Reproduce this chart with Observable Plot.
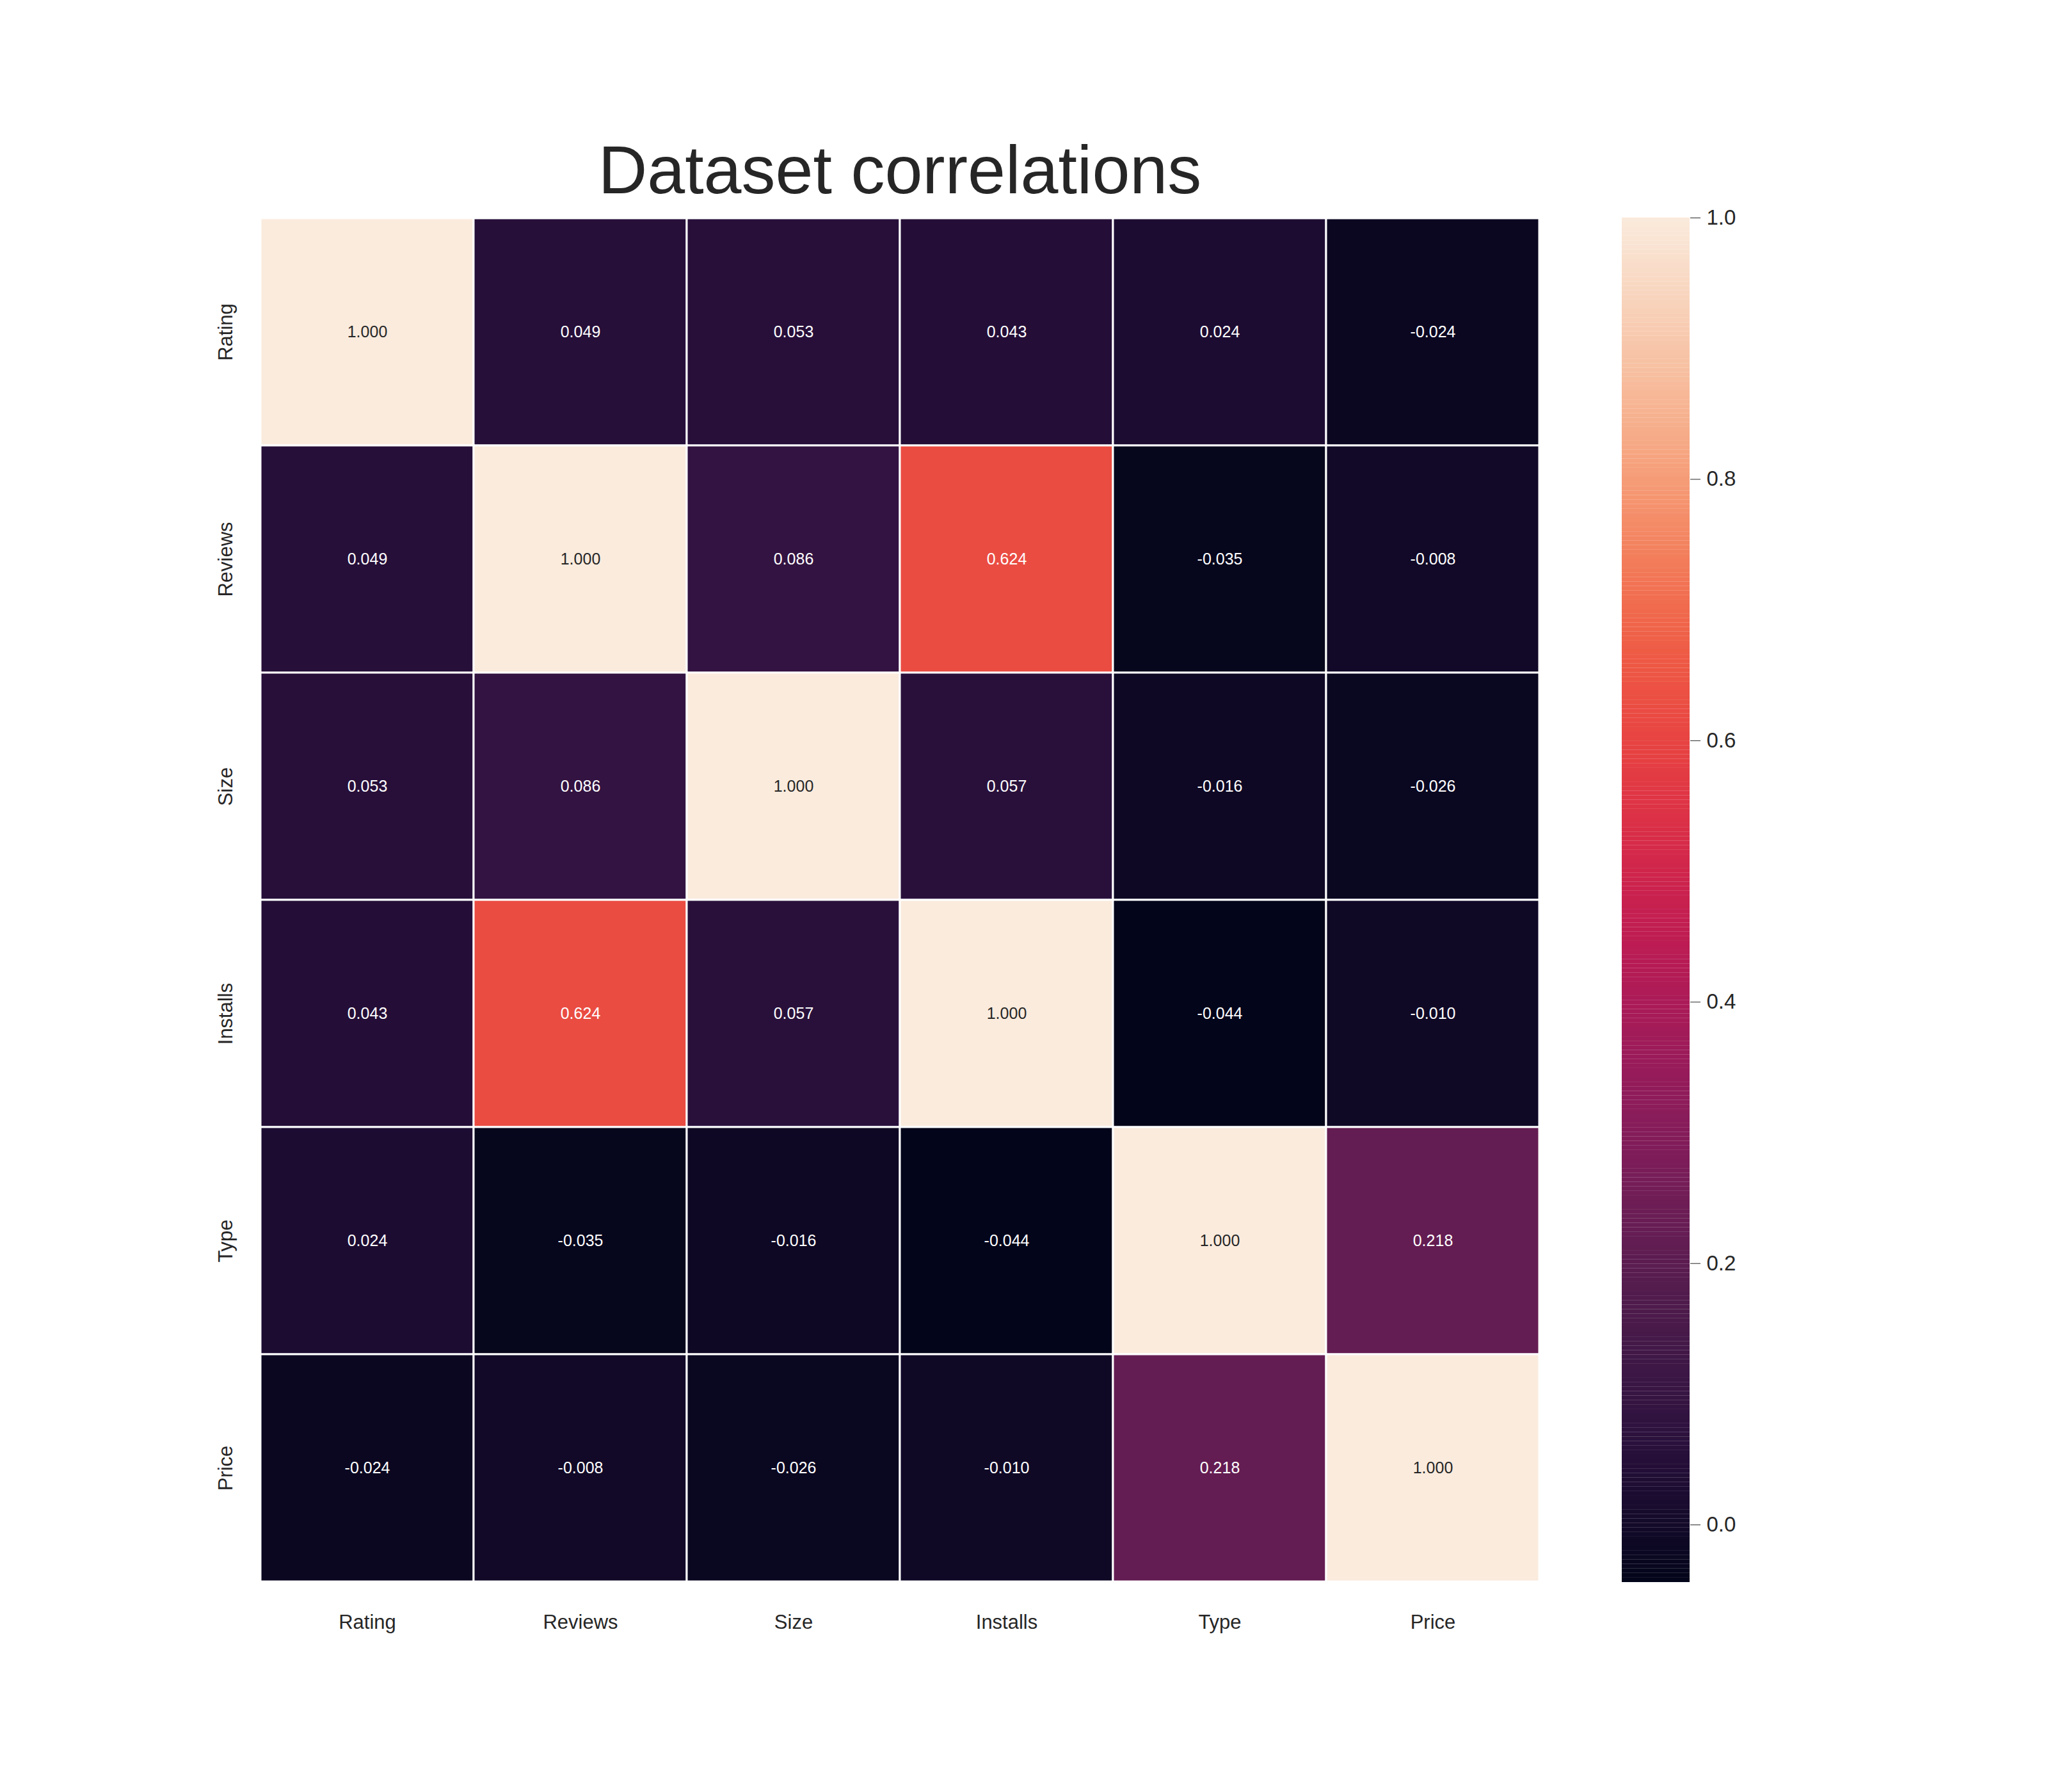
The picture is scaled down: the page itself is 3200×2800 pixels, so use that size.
<!DOCTYPE html>
<html><head><meta charset="utf-8">
<script src="https://cdn.jsdelivr.net/npm/d3@7"></script>
<script src="https://cdn.jsdelivr.net/npm/@observablehq/plot@0.6"></script>
<style>
body{margin:0;background:#fff;}
#wrap{position:relative;width:3200px;height:2800px;background:#fff;font-family:"Liberation Sans",Arial,sans-serif;}
#title{position:absolute;left:406px;width:2000px;top:205px;text-align:center;font-size:106px;color:#262626;}
#main,#cbar{position:absolute;}
#main{left:0;top:0;}
#cbar{left:2534px;top:310px;}
</style></head><body>
<div id="wrap"><div id="title">Dataset correlations</div><div id="main"></div><div id="cbar"></div></div>
<script>
const vars = ["Rating","Reviews","Size","Installs","Type","Price"];
const corr = [
  [1.000, 0.049, 0.053, 0.043, 0.024, -0.024],
  [0.049, 1.000, 0.086, 0.624, -0.035, -0.008],
  [0.053, 0.086, 1.000, 0.057, -0.016, -0.026],
  [0.043, 0.624, 0.057, 1.000, -0.044, -0.010],
  [0.024, -0.035, -0.016, -0.044, 1.000, 0.218],
  [-0.024, -0.008, -0.026, -0.010, 0.218, 1.000]
];
const cbTicks = [0, 0.2, 0.4, 0.6, 0.8, 1.0];
const rocket = ["#03051a","#2b1040","#4c1d4b","#7a1d5a","#a11a5b","#cb1b4f","#e83f3f","#f06043","#f69c73","#f7c5a8","#faebdd"];
const interp = d3.interpolateRgbBasis(rocket);
const dom = [-0.044, 1];

const cells = [];
vars.forEach((r,i)=>vars.forEach((c,j)=>cells.push({row:r,col:c,v:corr[i][j]})));

const color = {type:"linear", domain:dom, interpolate:()=>interp};
const font = "Liberation Sans, Arial, sans-serif";

const main = Plot.plot({
  width:3200, height:2800,
  marginLeft:406, marginRight:794, marginTop:340, marginBottom:328,
  style:{fontFamily:font, fontSize:"31px", color:"#262626", background:"transparent"},
  x:{domain:vars, label:null, tickSize:0, tickPadding:50, padding:0},
  y:{domain:vars, label:null, tickSize:0, tickPadding:44, padding:0, tickRotate:-90},
  color,
  marks:[
    Plot.cell(cells,{x:"col",y:"row",fill:"v",stroke:"white",strokeWidth:3}),
    Plot.text(cells,{x:"col",y:"row",text:d=>d.v.toFixed(3),fontSize:25,
      fill:d=>d.v>0.8?"#262626":"white"})
  ]
});
document.getElementById("main").appendChild(main);

const steps = d3.range(0,300).map(i=>dom[0]+(dom[1]-dom[0])*i/300);
const dy = (dom[1]-dom[0])/300;
const cb = Plot.plot({
  width:320, height:2192,
  marginLeft:0, marginRight:214, marginTop:30, marginBottom:30,
  style:{fontFamily:font, fontSize:"33px", color:"#262626", background:"transparent"},
  x:{domain:[0,1], axis:null},
  y:{domain:dom, label:null, axis:"right", ticks:cbTicks, tickFormat:d3.format(".1f"), tickSize:16, tickPadding:10},
  marks:[
    Plot.rect(steps,{x1:0,x2:1,y1:d=>d,y2:d=>d+dy*1.02,fill:d=>interp((d-dom[0])/(dom[1]-dom[0]))})
  ]
});
document.getElementById("cbar").appendChild(cb);
</script></body></html>
